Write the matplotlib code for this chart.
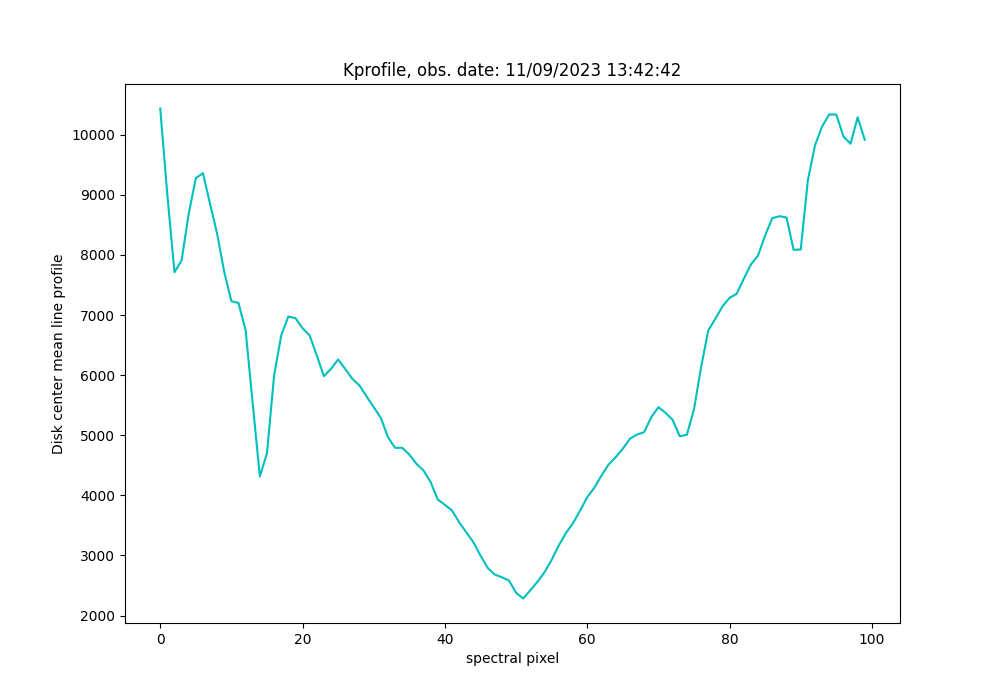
import matplotlib
matplotlib.use("Agg")
import matplotlib.pyplot as plt
import numpy as np

title = "Kprofile, obs. date: 11/09/2023 13:42:42"
xlabel = "spectral pixel"
ylabel = "Disk center mean line profile"

profile = [
    10436, 9000, 7712, 7907, 8684, 9276, 9360, 8850, 8351, 7712,
    7230, 7200, 6742, 5522, 4313, 4701, 5993, 6659, 6975, 6947,
    6780, 6659, 6326, 5982, 6105, 6260, 6100, 5938, 5827, 5644,
    5466, 5289, 4967, 4790, 4790, 4679, 4524, 4413, 4218, 3930,
    3842, 3747, 3552, 3386, 3220, 2998, 2794, 2682, 2637, 2582,
    2378, 2283, 2420, 2560, 2720, 2926, 3165, 3370, 3536, 3747,
    3968, 4125, 4329, 4512, 4634, 4774, 4940, 5012, 5050, 5300,
    5466, 5373, 5256, 4983, 5007, 5430, 6131, 6742, 6936, 7141,
    7286, 7353, 7603, 7840, 7990, 8323, 8611, 8644, 8622, 8085,
    8090, 9238, 9820, 10136, 10336, 10336, 9970, 9849, 10290, 9915,
]
pixels = np.arange(len(profile))

fig, ax = plt.subplots(figsize=(10, 7), dpi=100)
ax.plot(pixels, profile, color="c")
ax.set_title(title)
ax.set_xlabel(xlabel)
ax.set_ylabel(ylabel)
fig.savefig("out.png", dpi=100)
